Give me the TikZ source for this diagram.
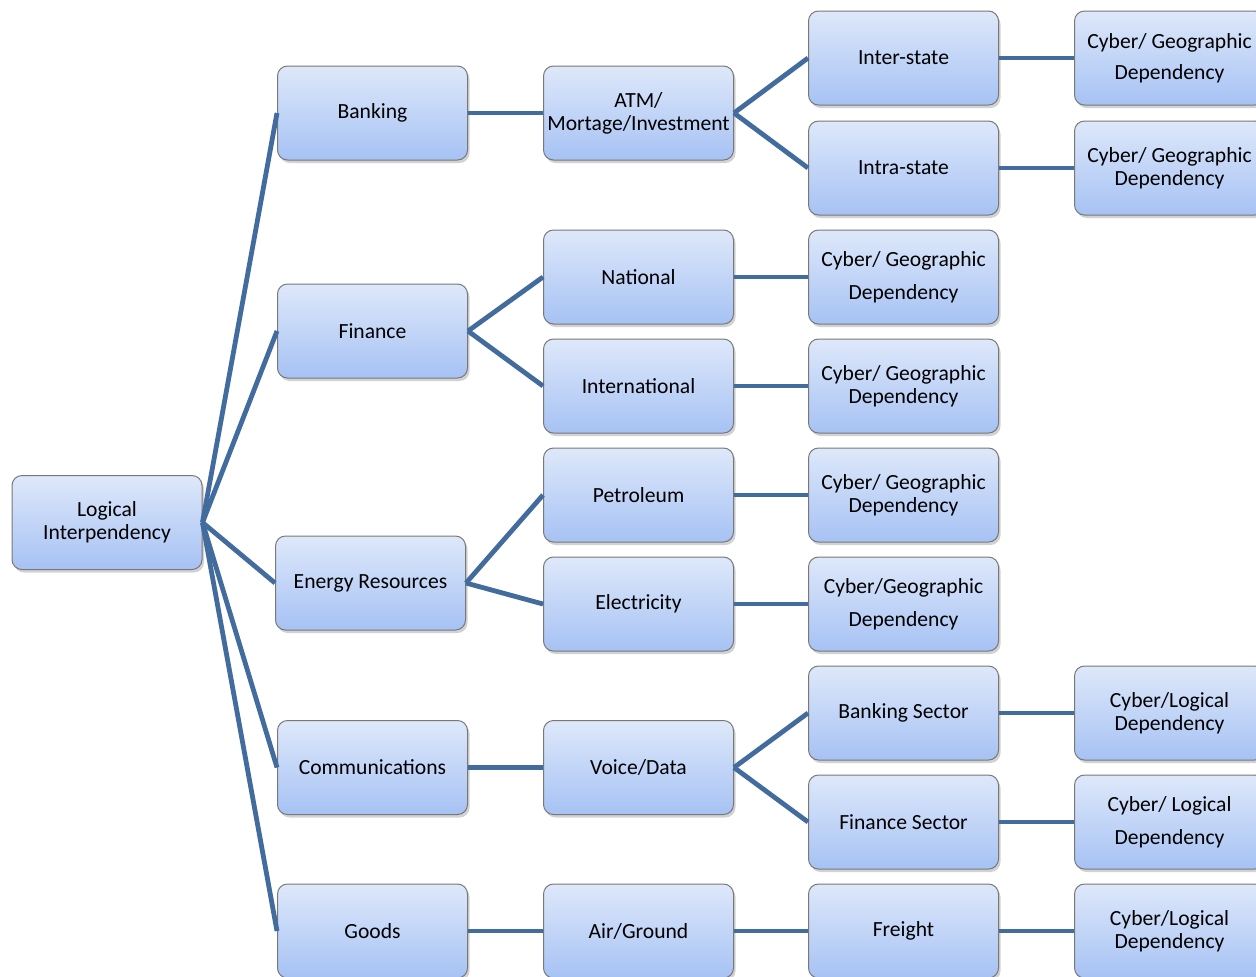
\documentclass[tikz,border=0pt]{standalone}
\usepackage{fontspec}
\setmainfont{Carlito}
\usetikzlibrary{shadows}
\definecolor{linkc}{RGB}{66,108,158}
\definecolor{boxtop}{RGB}{222,232,250}
\definecolor{boxbot}{RGB}{166,194,244}
\definecolor{boxedge}{RGB}{120,120,120}
\tikzset{
  box/.style={draw=boxedge, line width=0.5pt, rounded corners=5pt,
    top color=boxtop, bottom color=boxbot,
    minimum width=95pt, minimum height=47pt, inner sep=1pt,
    align=center, text=black,
    font=\fontsize{10.8}{11.5}\selectfont,
    drop shadow={opacity=0.35, shadow xshift=1pt, shadow yshift=-1.5pt}},
  link/.style={draw=linkc, line width=2.4pt}
}
\begin{document}
\begin{tikzpicture}[x=0.5pt,y=-0.5pt]
\clip (0,0) rectangle (1256,976);
\fill[white] (0,0) rectangle (1256,976);
% column 0
\node[box] (L) at (107,522.5) {Logical\\Interpendency};
% column 1
\node[box] (bank) at (372.5,113) {Banking};
\node[box] (fin) at (372.5,331) {Finance};
\node[box] (ener) at (370.5,583) {Energy Resources};
\node[box] (comm) at (372.5,767.5) {Communications};
\node[box] (goods) at (372.5,931) {Goods};
% column 2
\node[box] (atm) at (638.5,113) {ATM/\\Mortage/Investment};
\node[box] (nat) at (638.5,277) {National};
\node[box] (intl) at (638.5,386) {International};
\node[box] (pet) at (638.5,495) {Petroleum};
\node[box] (elec) at (638.5,604) {Electricity};
\node[box] (voice) at (638.5,767.5) {Voice/Data};
\node[box] (air) at (638.5,931) {Air/Ground};
% column 3
\node[box] (inter) at (903.5,58) {Inter-state};
\node[box] (intra) at (903.5,168) {Intra-state};
\node[box] (cnat) at (903.5,277) {Cyber/ Geographic\\[5pt]Dependency};
\node[box] (cintl) at (903.5,386) {Cyber/ Geographic\\Dependency};
\node[box] (cpet) at (903.5,495) {Cyber/ Geographic\\Dependency};
\node[box] (celec) at (903.5,604) {Cyber/Geographic\\[5pt]Dependency};
\node[box] (bsec) at (903.5,713) {Banking Sector};
\node[box] (fsec) at (903.5,822) {Finance Sector};
\node[box] (frei) at (903.5,931) {Freight};
% column 4
\node[box] (cinter) at (1169.5,58) {Cyber/ Geographic\\[4pt]Dependency};
\node[box] (cintra) at (1169.5,168) {Cyber/ Geographic\\Dependency};
\node[box] (cbsec) at (1169.5,713) {Cyber/Logical\\Dependency};
\node[box] (cfsec) at (1169.5,822) {Cyber/ Logical\\[5pt]Dependency};
\node[box] (cfrei) at (1169.5,931) {Cyber/Logical\\Dependency};
% connectors
\foreach \t in {bank,fin,ener,comm,goods}
  \draw[link] (L.east) -- (\t.west);
\draw[link] (bank.east) -- (atm.west);
\draw[link] (atm.east) -- (inter.west);
\draw[link] (atm.east) -- (intra.west);
\draw[link] (inter.east) -- (cinter.west);
\draw[link] (intra.east) -- (cintra.west);
\draw[link] (fin.east) -- (nat.west);
\draw[link] (fin.east) -- (intl.west);
\draw[link] (nat.east) -- (cnat.west);
\draw[link] (intl.east) -- (cintl.west);
\draw[link] (ener.east) -- (pet.west);
\draw[link] (ener.east) -- (elec.west);
\draw[link] (pet.east) -- (cpet.west);
\draw[link] (elec.east) -- (celec.west);
\draw[link] (comm.east) -- (voice.west);
\draw[link] (voice.east) -- (bsec.west);
\draw[link] (voice.east) -- (fsec.west);
\draw[link] (bsec.east) -- (cbsec.west);
\draw[link] (fsec.east) -- (cfsec.west);
\draw[link] (goods.east) -- (air.west);
\draw[link] (air.east) -- (frei.west);
\draw[link] (frei.east) -- (cfrei.west);
\end{tikzpicture}
\end{document}
